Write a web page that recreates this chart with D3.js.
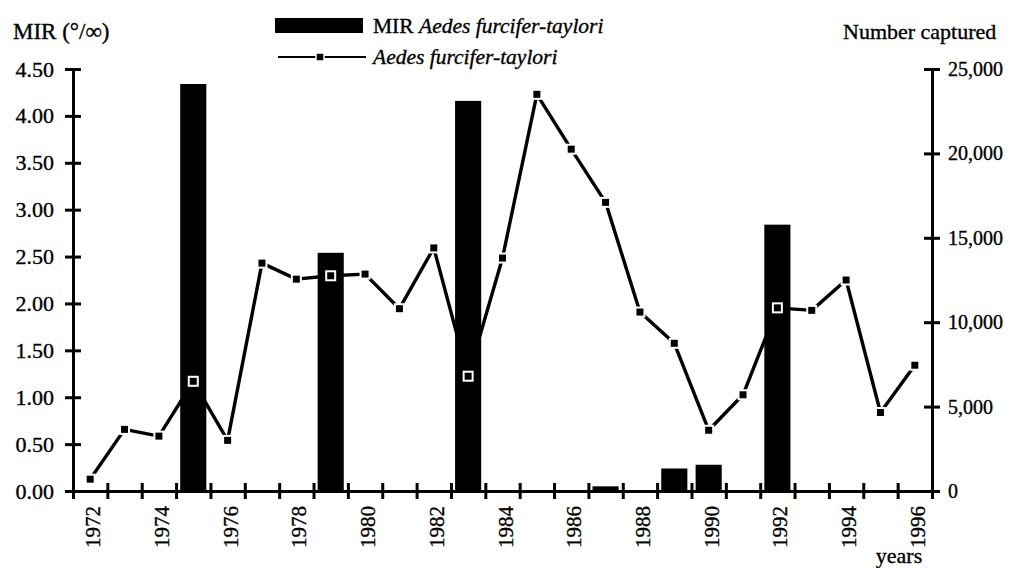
<!DOCTYPE html>
<html><head><meta charset="utf-8">
<script src="https://cdn.jsdelivr.net/npm/d3@7/dist/d3.min.js"></script>
<style>
body{margin:0;background:#fff}
text{font-family:"Liberation Serif","Times New Roman",serif;fill:#000;stroke:#000;stroke-width:0.35px}
</style>
</head><body>
<svg id="chart" width="1010" height="568"></svg>
<script>
// ---- data ----
const years = [1972,1973,1974,1975,1976,1977,1978,1979,1980,1981,1982,1983,1984,1985,1986,1987,1988,1989,1990,1991,1992,1993,1994,1995,1996];
const barYears = [1975,1979,1983,1987,1989,1990,1992];
const mirValues = [4.34,2.54,4.16,0.05,0.24,0.28,2.84];
const captured = [700,3650,3250,6500,3000,13500,12550,12750,12850,10800,14400,6800,13800,23500,20250,17100,10600,8750,3600,5700,10850,10700,12500,4650,7450];
const leftTicks = [0,0.5,1,1.5,2,2.5,3,3.5,4,4.5];
const rightTicks = [0,5000,10000,15000,20000,25000];
const xLabelYears = [1972,1974,1976,1978,1980,1982,1984,1986,1988,1990,1992,1994,1996];

// ---- layout ----
const svg = d3.select("#chart");
const X0 = 73, X1 = 932, Y0 = 491, Y1 = 69;
const x = d3.scaleBand().domain(years).range([X0, X1]).paddingInner(0.24).paddingOuter(0.12);
const step = x.step();
const cx = d => x(d) + x.bandwidth() / 2;
const yL = d3.scaleLinear().domain([0, 4.5]).range([Y0, Y1]);
const yR = d3.scaleLinear().domain([0, 25000]).range([Y0, Y1]);
const AX = 3;
const FONT = '"Liberation Serif","Times New Roman",serif';

// bars
svg.append("g").selectAll("rect").data(barYears).join("rect")
  .attr("x", d => x(d)).attr("width", x.bandwidth())
  .attr("y", (d, i) => yL(mirValues[i]))
  .attr("height", (d, i) => Y0 - yL(mirValues[i]))
  .attr("fill", "#000");

// line
const line = d3.line().x((d, i) => cx(years[i])).y(d => yR(d));
svg.append("path").datum(captured).attr("d", line)
  .attr("fill", "none").attr("stroke", "#000").attr("stroke-width", 3.4).attr("stroke-linejoin", "round");
svg.append("g").selectAll("rect").data(captured).join("rect")
  .attr("x", (d, i) => cx(years[i]) - 4.5).attr("y", d => yR(d) - 4.5)
  .attr("width", 9).attr("height", 9)
  .attr("fill", "#000").attr("stroke", "#fff").attr("stroke-width", 2);

// left axis
const gl = svg.append("g").attr("transform", `translate(${X0},0)`)
  .call(d3.axisLeft(yL).tickValues(leftTicks).tickFormat(d3.format(".2f")).tickSizeInner(8).tickSizeOuter(0).tickPadding(11));
gl.selectAll("line").attr("x1", 8).attr("stroke-width", AX);
gl.select(".domain").attr("stroke-width", AX);
gl.selectAll("text").attr("font-size", 22).style("font-family", FONT);

// right axis
const gr = svg.append("g").attr("transform", `translate(${X1},0)`)
  .call(d3.axisRight(yR).tickValues(rightTicks).tickFormat(d3.format(",")).tickSizeInner(8).tickSizeOuter(0).tickPadding(8));
gr.selectAll("line").attr("x1", -8).attr("stroke-width", AX);
gr.select(".domain").attr("stroke-width", AX);
gr.selectAll("text").attr("font-size", 20).style("font-family", FONT);

// x axis: boundary ticks
const boundaries = years.map(d => x(d) - step * 0.12).concat([X1]);
const xb = d3.scaleLinear().domain([0, boundaries.length - 1]).range([boundaries[0], X1]);
const gx = svg.append("g").attr("transform", `translate(0,${Y0})`)
  .call(d3.axisBottom(xb).tickValues(d3.range(boundaries.length)).tickFormat("").tickSizeInner(8).tickSizeOuter(0));
gx.selectAll("line").attr("y1", -8).attr("stroke-width", AX);
gx.select(".domain").attr("stroke-width", AX);

// x labels (rotated)
svg.append("g").selectAll("text").data(xLabelYears).join("text")
  .attr("transform", d => `translate(${cx(d) + 10},506) rotate(-90)`)
  .attr("text-anchor", "end").attr("font-size", 21).text(d => d);

// titles
svg.append("text").attr("x", 13).attr("y", 39).attr("font-size", 23).text("MIR (°/∞)");
svg.append("text").attr("x", 843).attr("y", 39).attr("font-size", 22).text("Number captured");
svg.append("text").attr("x", 899).attr("y", 563).attr("text-anchor", "middle").attr("font-size", 22).text("years");

// legend
svg.append("rect").attr("x", 275).attr("y", 18).attr("width", 88).attr("height", 15).attr("fill", "#000");
const t1 = svg.append("text").attr("x", 373).attr("y", 33).attr("font-size", 21.5);
t1.append("tspan").text("MIR ");
t1.append("tspan").attr("font-style", "italic").text("Aedes furcifer-taylori");
svg.append("line").attr("x1", 278).attr("x2", 366).attr("y1", 57).attr("y2", 57).attr("stroke", "#000").attr("stroke-width", 2.2);
svg.append("rect").attr("x", 316).attr("y", 53).attr("width", 8).attr("height", 8).attr("fill", "#000").attr("stroke", "#fff").attr("stroke-width", 1.5);
svg.append("text").attr("x", 373).attr("y", 64).attr("font-size", 21.5).attr("font-style", "italic").text("Aedes furcifer-taylori");
</script>
</body></html>
